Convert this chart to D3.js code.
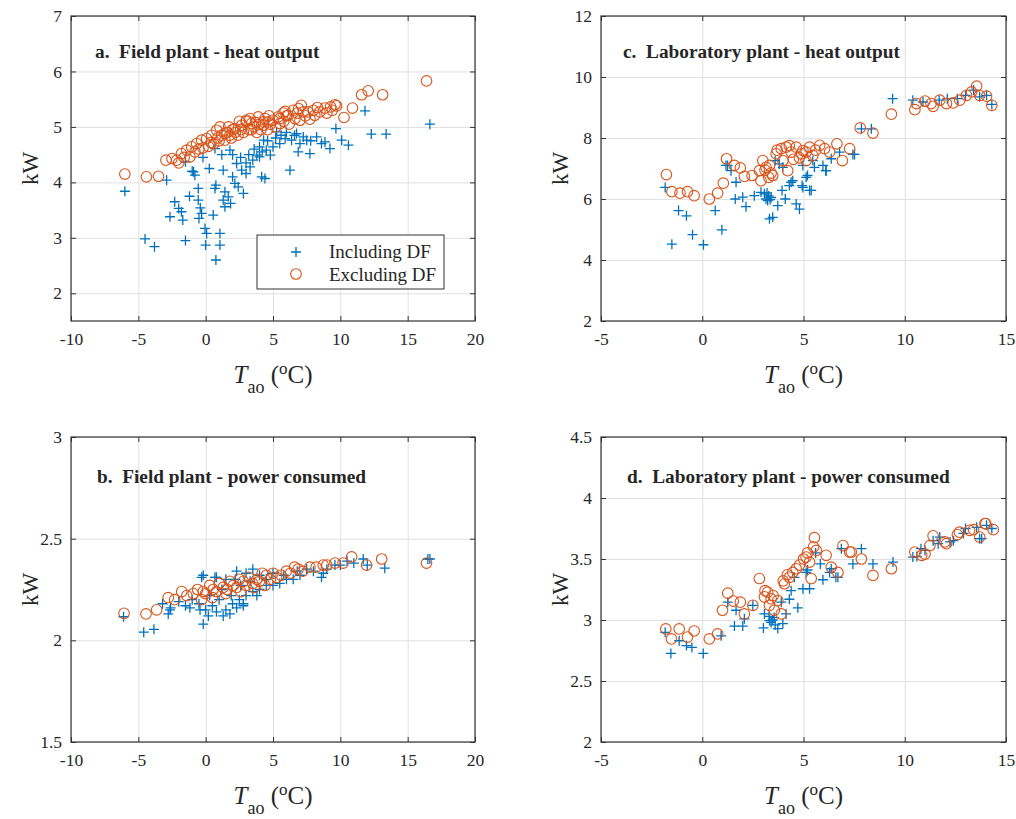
<!DOCTYPE html>
<html>
<head>
<meta charset="utf-8">
<script src="https://cdn.jsdelivr.net/npm/d3@7"></script>
<style>
  html, body { margin: 0; padding: 0; background: #fff; }
  svg { display: block; }
  text { font-family: "Liberation Serif", "Times New Roman", serif; fill: #262626; }
</style>
</head>
<body>
<svg id="chart" width="1016" height="819"></svg>
<script>
// ---------------- DATA (T_ao in °C, value in kW) ----------------
const fieldHeatIncl = [
  [-6.0,3.84],[-4.5,2.98],[-3.8,2.84],[-1.5,2.95],[-2.9,4.04],[-2.65,3.38],[-2.3,3.65],[-2.0,3.53],[-1.8,3.47],[-1.7,3.32],
  [-1.2,3.75],[-0.9,4.19],[-0.8,4.13],[-1.5,4.37],[-0.55,3.89],[-0.55,3.68],[-0.4,3.54],[-0.3,3.44],[-0.5,3.35],[-0.05,3.17],
  [0.07,3.08],[0.0,2.87],[0.76,2.6],[1.06,3.08],[1.06,2.87],[0.56,3.41],[0.27,4.25],[0.76,3.95],[0.69,3.89],[1.3,4.22],
  [1.43,3.83],[1.3,3.68],[1.68,3.74],[1.43,3.56],[1.85,3.62],[2.0,4.1],[2.17,3.98],[2.42,3.92],[2.8,3.8],[2.3,4.34],
  [2.67,4.22],[3.0,4.16],[3.3,4.28],[3.5,4.4],[3.8,4.49],[4.16,4.1],[4.4,4.07],[4.0,4.64],[4.3,4.76],[0.69,4.61],[1.8,4.58],
  [11.83,5.29],[16.65,5.05],[12.3,4.87],[13.4,4.87],[9.67,4.97],[10.1,4.76],[10.6,4.67],[8.86,4.73],[9.23,4.61],[8.6,4.7],
  [7.74,4.52],[7.25,4.82],[6.87,4.55],[6.26,4.22],[8.24,4.82],[6.38,4.76],[5.9,4.79],[5.5,4.7],[5.0,4.64],[4.5,4.58],
  [4.8,4.49],[4.0,4.46],[5.27,4.91],[6.75,4.88],[7.5,4.76],
  [3.2,4.5],[3.6,4.6],[4.6,4.75],[5.2,4.8],[5.6,4.85],[6.0,4.9],[6.6,4.85],[7.0,4.7],[7.8,4.75],[3.0,4.35],
  [2.6,4.45],[4.2,4.55],[2.0,4.5],[1.2,4.5],[-1.0,4.2],[-0.2,4.45]
];
const fieldHeatExcl = [
  [-6.0,4.15],[-4.4,4.1],[-3.5,4.11],[-2.95,4.4],[-2.5,4.43],[-2.15,4.4],[-1.8,4.52],[-1.4,4.58],[-1.04,4.64],[-0.67,4.7],
  [-0.3,4.76],[0.07,4.79],[0.45,4.85],[0.82,4.94],[1.06,5.0],[1.43,4.76],[1.8,4.85],[2.17,4.97],[2.67,5.03],[3.04,5.12],
  [3.4,5.06],[3.9,5.18],[4.28,5.09],[-1.17,4.46],[-0.8,4.55],
  [16.4,5.83],[11.58,5.58],[12.07,5.65],[13.14,5.58],[10.9,5.34],[10.27,5.17],[9.72,5.38],[9.28,5.36],[8.86,5.34],[8.48,5.27],
  [8.1,5.21],[7.74,5.14],[7.1,5.39],[7.25,5.27],[6.5,5.3],[6.13,5.21],[6.63,5.15],[5.76,5.25],[5.39,5.18],[5.0,5.12],
  [4.65,5.09],[4.28,5.03],[5.52,5.06],[7.0,5.12],[7.6,5.27],
  [0.6,4.7],[1.2,4.85],[1.6,4.9],[2.4,4.85],[2.8,4.9],[3.2,4.95],[3.6,5.0],[4.0,5.05],[4.6,4.95],[5.2,5.0],
  [0.2,4.65],[-0.5,4.6],[1.0,4.75],[2.0,4.95],[3.0,5.1],[3.8,4.9],[4.4,5.15],[5.8,5.1],[6.2,5.05],[6.8,5.25],
  [8.0,5.3],[9.0,5.25],[9.6,5.4],
  [-2.0,4.35],[-1.6,4.45],[-0.2,4.62],[0.4,4.72],[0.9,4.8],[1.4,4.88],[1.9,4.8],[2.2,4.9],[2.6,4.95],[3.4,4.95],
  [3.7,5.08],[4.1,4.95],[4.8,5.05],[5.5,5.15],[6.0,5.2],[1.7,5.0],[2.5,5.1],[3.3,5.15],[4.7,5.2],[5.9,5.28],
  [6.9,5.33],[7.4,5.2],[8.3,5.35],[9.4,5.3]
];
const fieldPowerIncl = [
  [-6.1,2.116],[-4.6,2.04],[-3.84,2.054],[-0.18,2.08],[-2.78,2.13],[-0.3,2.31],[0.69,2.31],[1.8,2.13],[3.5,2.35],[16.5,2.4],
  [13.3,2.355],[11.7,2.40],[8.6,2.31],[6.5,2.3],[5.5,2.28],
  [0.5,2.17],[1.0,2.2],[1.5,2.15],[2.0,2.18],[2.5,2.2],[3.0,2.22],[3.5,2.24],[4.0,2.25],[0.0,2.15],[-0.5,2.18],
  [-1.5,2.17],[-2.0,2.19],[2.3,2.16],[1.3,2.12],[0.8,2.14],[4.5,2.27],[5.0,2.27],[6.0,2.3],[7.0,2.32],[8.0,2.34],
  [9.0,2.35],[10.0,2.37],[11.0,2.38],[12.0,2.37],[2.2,2.3],[3.0,2.33],[1.5,2.3],[4.0,2.32],[5.0,2.33],[7.5,2.35],
  [9.6,2.37],[10.5,2.39],[-1.0,2.2],[0.3,2.22],[1.2,2.25],[2.6,2.27],[3.3,2.29],[4.5,2.3],[5.8,2.32],[6.8,2.34],
  [-2.6,2.16],[-3.2,2.18],[0.2,2.12],[2.8,2.18],[1.9,2.22],
  [-0.18,2.32],[0.8,2.31],[2.3,2.34],[3.8,2.22],[2.8,2.17],[-0.42,2.15],[-1.17,2.16],[-2.65,2.15],[8.73,2.33],[16.65,2.40]
];
const fieldPowerExcl = [
  [-6.06,2.133],[-4.43,2.13],[-3.64,2.15],[-2.78,2.21],[-1.78,2.24],[16.4,2.38],[13.07,2.4],[11.95,2.37],[10.84,2.41],[10.2,2.38],
  [9.6,2.38],[8.73,2.37],[7.74,2.36],[6.87,2.35],[6.0,2.34],[5.27,2.31],[4.5,2.32],[3.8,2.3],[2.8,2.29],[2.05,2.27],
  [1.3,2.26],[0.56,2.25],[-0.18,2.24],[-0.92,2.23],
  [-2.3,2.2],[-1.4,2.22],[-0.6,2.25],[0.0,2.23],[0.3,2.27],[0.8,2.24],[1.0,2.28],[1.6,2.25],[1.8,2.29],[2.3,2.26],
  [2.5,2.3],[3.0,2.27],[3.2,2.31],[3.5,2.28],[4.0,2.29],[4.2,2.33],[4.8,2.3],[5.0,2.33],[5.6,2.32],[6.3,2.33],
  [6.6,2.36],[7.2,2.34],[8.2,2.36],[9.0,2.37],[-0.3,2.2],[0.5,2.21],[1.5,2.23],[2.6,2.24],[3.6,2.26],[4.4,2.27]
];
const labHeatIncl = [
  [-1.83,6.38],[-1.5,4.52],[-1.17,5.62],[-0.78,5.45],[-0.48,4.83],[0.06,4.5],[0.64,5.62],[0.97,4.99],[1.17,7.1],[1.42,6.93],
  [1.67,6.55],[1.63,6.0],[2.0,6.06],[2.16,5.75],[2.57,6.11],[2.9,6.22],[3.07,6.17],[3.15,6.0],[3.23,5.95],[3.48,5.4],
  [3.32,5.35],[3.73,5.78],[3.94,6.28],[4.1,6.0],[4.39,6.55],[4.64,5.84],[4.8,5.67],[3.98,7.04],[3.6,7.26],[4.93,6.44],
  [5.13,6.71],[5.2,6.77],[5.38,6.28],[6.1,6.93],[7.44,7.46],[6.78,7.54],[9.4,9.29],[7.86,8.3],[8.35,8.3],[10.4,9.24],
  [10.9,9.18],[11.7,9.24],[12.6,9.29],[13.0,9.4],[13.4,9.57],[13.7,9.35],[14.04,9.4],[14.3,9.1],[12.1,9.29],[4.47,6.6],
  [4.3,6.44],[4.97,7.1],[5.46,7.26],[5.96,7.1],[3.8,7.15],[1.25,7.1],[3.28,6.1],[3.35,5.98],[3.4,6.05],[3.2,6.2],
  [4.97,6.38],[5.3,6.28],[5.54,7.04],[6.12,6.93],[6.37,7.32],[7.52,7.46]
];
const labHeatExcl = [
  [-1.77,6.8],[-1.5,6.24],[-1.1,6.19],[-0.73,6.24],[-0.4,6.11],[0.35,6.0],[0.76,6.19],[1.04,6.52],[1.2,7.32],[1.58,7.1],
  [1.88,7.02],[2.08,6.74],[2.46,6.77],[2.82,6.93],[2.99,7.26],[3.15,7.04],[3.28,6.71],[3.48,6.77],[3.32,7.1],[3.65,7.48],
  [3.9,7.65],[4.14,7.7],[4.39,7.54],[4.64,7.7],[4.89,7.48],[5.13,7.54],[4.22,6.93],[3.98,7.26],
  [4.97,7.59],[5.3,7.7],[5.8,7.76],[6.04,7.65],[6.65,7.81],[6.92,7.26],[7.28,7.65],[5.46,7.43],[5.13,7.26],[6.29,7.54],
  [7.8,8.33],[8.43,8.16],[9.34,8.78],[10.5,8.93],[10.58,9.13],[11.0,9.21],[11.4,9.04],[11.73,9.24],[12.06,9.13],[12.39,9.15],
  [12.72,9.24],[13.05,9.4],[13.3,9.51],[13.55,9.7],[13.7,9.4],[14.04,9.37],[14.3,9.07],[11.3,9.13],
  [3.1,6.95],[3.4,6.85],[4.5,7.3],[4.8,7.35],[3.7,7.6],[4.3,7.75],[5.6,7.6],[2.9,6.6]
];
const labPowerIncl = [
  [-1.83,2.899],[-1.55,2.726],[-1.14,2.83],[-0.78,2.79],[-0.51,2.775],[0.05,2.726],[0.93,2.87],[1.26,3.146],[1.67,3.08],[1.59,2.95],
  [2.0,2.95],[2.08,3.01],[2.5,3.12],[3.02,2.935],[3.07,3.05],[3.32,2.995],[3.48,3.0],[3.73,2.93],[3.98,2.97],[4.14,3.05],
  [4.3,3.17],[4.72,3.1],[4.97,3.256],[5.3,3.256],[5.13,3.39],[5.6,3.55],[5.96,3.33],[6.29,3.39],[6.7,3.35],[5.83,3.46],
  [6.87,3.585],[7.44,3.46],[7.86,3.585],[8.43,3.46],[9.42,3.475],[10.4,3.516],[11.0,3.57],[11.65,3.626],[12.24,3.64],[12.9,3.71],
  [13.7,3.667],[4.39,3.24],[3.9,3.146],[4.55,3.35],[10.6,3.52],[10.8,3.585],[11.4,3.65],[11.73,3.68],[12.4,3.65],[13.55,3.76],
  [13.8,3.667],[14.04,3.776],[14.3,3.75],[13.0,3.75],[5.2,3.41],[6.37,3.42],[6.6,3.35],
  [3.4,2.98],[3.6,2.96],[3.55,3.02],[3.3,3.03]
];
const labPowerExcl = [
  [-1.8,2.927],[-1.52,2.845],[-1.14,2.927],[-0.73,2.86],[-0.4,2.91],[0.35,2.845],[0.76,2.886],[1.0,3.08],[1.26,3.22],[1.53,3.155],
  [1.88,3.146],[2.08,3.05],[2.5,3.12],[2.82,3.34],[3.07,3.19],[3.23,3.228],[3.4,3.174],[3.32,3.12],[3.56,3.08],[3.73,3.16],
  [3.9,3.05],[4.06,3.297],[4.3,3.35],[4.47,3.39],[4.64,3.42],[5.13,3.516],[5.3,3.475],[5.54,3.675],[5.63,3.57],[5.38,3.34],
  [6.12,3.53],[6.37,3.433],[6.7,3.39],[6.95,3.61],[7.28,3.557],[7.86,3.5],[8.43,3.365],[9.34,3.42],[10.5,3.557],[10.84,3.53],
  [11.24,3.61],[11.98,3.64],[12.6,3.70],[13.4,3.74],[14.0,3.79],[11.0,3.54],[11.4,3.69],[12.06,3.626],[12.7,3.72],[13.2,3.735],
  [13.7,3.68],[13.96,3.79],[14.37,3.74],[7.36,3.557],
  [4.2,3.37],[4.8,3.45],[5.0,3.5],[5.2,3.55],[3.5,3.2],[3.1,3.24],[4.0,3.32],[5.5,3.6]
];

const fieldXTicks = [-10, -5, 0, 5, 10, 15, 20];
const labXTicks = [-5, 0, 5, 10, 15];
const fieldHeatYTicks = [2, 3, 4, 5, 6, 7];
const labHeatYTicks = [2, 4, 6, 8, 10, 12];
const fieldPowerYTicks = [1.5, 2, 2.5, 3];
const labPowerYTicks = [2, 2.5, 3, 3.5, 4, 4.5];
const seriesNames = ["Including DF", "Excluding DF"];
const titles = {
  a: "a.  Field plant - heat output",
  b: "b.  Field plant - power consumed",
  c: "c.  Laboratory plant - heat output",
  d: "d.  Laboratory plant - power consumed"
};

// ---------------- LAYOUT ----------------
const SERIF = '"Liberation Serif", "Times New Roman", serif';
const BLUE = "#0072BD", ORANGE = "#D95319";
const panels = [
  { key: "a", box: [71, 16, 475, 321], xDom: [-10, 20], yDom: [1.5, 7], xTicks: fieldXTicks, yTicks: fieldHeatYTicks,
    incl: fieldHeatIncl, excl: fieldHeatExcl, titlePos: [95, 58], legend: true },
  { key: "c", box: [601, 16, 1006, 321], xDom: [-5, 15], yDom: [2, 12], xTicks: labXTicks, yTicks: labHeatYTicks,
    incl: labHeatIncl, excl: labHeatExcl, titlePos: [623, 58] },
  { key: "b", box: [71, 437, 475, 742], xDom: [-10, 20], yDom: [1.5, 3], xTicks: fieldXTicks, yTicks: fieldPowerYTicks,
    incl: fieldPowerIncl, excl: fieldPowerExcl, titlePos: [97, 483] },
  { key: "d", box: [601, 437, 1006, 742], xDom: [-5, 15], yDom: [2, 4.5], xTicks: labXTicks, yTicks: labPowerYTicks,
    incl: labPowerIncl, excl: labPowerExcl, titlePos: [627, 483] }
];

const svg = d3.select("#chart");
const fmt = v => String(v);
const TICK = 5;
const MS = 5;   // marker half-size

function plus(sel, color) {
  sel.append("path")
    .attr("d", `M${-MS},0H${MS}M0,${-MS}V${MS}`)
    .attr("stroke", color).attr("stroke-width", 1.3).attr("fill", "none");
}

panels.forEach(p => {
  const [x0, y0, x1, y1] = p.box;
  const w = x1 - x0, h = y1 - y0;
  const x = d3.scaleLinear().domain(p.xDom).range([x0, x1]);
  const y = d3.scaleLinear().domain(p.yDom).range([y1, y0]);
  const g = svg.append("g");

  // grid
  g.append("g").attr("transform", `translate(0,${y1})`)
    .call(d3.axisBottom(x).tickValues(p.xTicks).tickSize(-h).tickFormat(""))
    .call(s => s.select(".domain").remove())
    .call(s => s.selectAll("line").attr("stroke", "#e0e0e0").attr("stroke-width", 1));
  g.append("g").attr("transform", `translate(${x0},0)`)
    .call(d3.axisLeft(y).tickValues(p.yTicks).tickSize(-w).tickFormat(""))
    .call(s => s.select(".domain").remove())
    .call(s => s.selectAll("line").attr("stroke", "#e0e0e0").attr("stroke-width", 1));

  // data: blue pluses first, then orange circles
  g.append("g").selectAll("g").data(p.incl).join("g")
    .attr("transform", d => `translate(${x(d[0])},${y(d[1])})`)
    .each(function () { plus(d3.select(this), BLUE); });
  g.append("g").selectAll("circle").data(p.excl).join("circle")
    .attr("cx", d => x(d[0])).attr("cy", d => y(d[1])).attr("r", 5.3)
    .attr("fill", "none").attr("stroke", ORANGE).attr("stroke-width", 1.1);

  // axes (ticks inward)
  const styleAxis = s => {
    s.attr("font-family", null);
    s.select(".domain").remove();
    s.selectAll("line").attr("stroke", "#333").attr("stroke-width", 1);
    s.selectAll("text").style("font-family", SERIF).attr("font-size", 17.5).attr("fill", "#262626");
  };
  g.append("g").attr("transform", `translate(0,${y1})`)
    .call(d3.axisBottom(x).tickValues(p.xTicks).tickSizeInner(-TICK).tickSizeOuter(0).tickPadding(12).tickFormat(fmt))
    .call(styleAxis);
  g.append("g").attr("transform", `translate(0,${y0})`)
    .call(d3.axisTop(x).tickValues(p.xTicks).tickSizeInner(-TICK).tickSizeOuter(0).tickFormat(""))
    .call(styleAxis);
  g.append("g").attr("transform", `translate(${x0},0)`)
    .call(d3.axisLeft(y).tickValues(p.yTicks).tickSizeInner(-TICK).tickSizeOuter(0).tickPadding(9).tickFormat(fmt))
    .call(styleAxis);
  g.append("g").attr("transform", `translate(${x1},0)`)
    .call(d3.axisRight(y).tickValues(p.yTicks).tickSizeInner(-TICK).tickSizeOuter(0).tickFormat(""))
    .call(styleAxis);

  // box
  g.append("rect").attr("x", x0).attr("y", y0).attr("width", w).attr("height", h)
    .attr("fill", "none").attr("stroke", "#333").attr("stroke-width", 1.2);

  // title
  g.append("text").attr("x", p.titlePos[0]).attr("y", p.titlePos[1])
    .attr("font-size", 19.3).attr("font-weight", "bold").attr("fill", "#000")
    .attr("xml:space", "preserve").style("white-space", "pre")
    .text(titles[p.key]);

  // x label
  const cx = (x0 + x1) / 2;
  const xl = g.append("text").attr("x", cx).attr("y", y1 + 62).attr("text-anchor", "middle")
    .attr("font-size", 25).attr("fill", "#262626");
  xl.append("tspan").attr("font-style", "italic").text("T");
  xl.append("tspan").attr("font-size", 18).attr("dy", 10).text("ao");
  xl.append("tspan").attr("dy", -10).text("\u00a0(");
  xl.append("tspan").attr("font-size", 17).attr("dy", -9).text("o");
  xl.append("tspan").attr("dy", 9).text("C)");

  // y label
  g.append("text").attr("transform", `translate(${x0 - 33},${(y0 + y1) / 2}) rotate(-90)`)
    .attr("text-anchor", "middle").attr("font-size", 23).attr("fill", "#262626").text("kW");

  // legend
  if (p.legend) {
    const lg = g.append("g");
    lg.append("rect").attr("x", 257).attr("y", 235).attr("width", 187).attr("height", 54)
      .attr("fill", "#fff").attr("stroke", "#333").attr("stroke-width", 1);
    const m1 = lg.append("g").attr("transform", "translate(296,252)");
    plus(m1, BLUE);
    lg.append("circle").attr("cx", 296).attr("cy", 274).attr("r", 5.3)
      .attr("fill", "none").attr("stroke", ORANGE).attr("stroke-width", 1.1);
    lg.append("text").attr("x", 329).attr("y", 258).attr("font-size", 19).attr("fill", "#000").text(seriesNames[0]);
    lg.append("text").attr("x", 329).attr("y", 281).attr("font-size", 19).attr("fill", "#000").text(seriesNames[1]);
  }
});
</script>
</body>
</html>
